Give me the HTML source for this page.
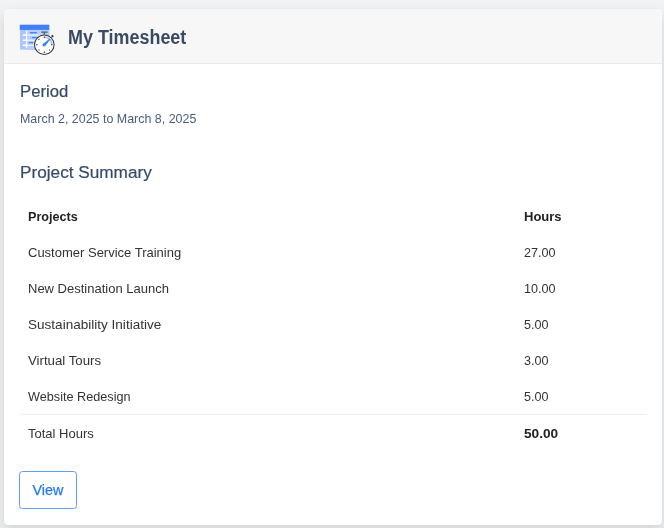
<!DOCTYPE html>
<html lang="en"><head><meta charset="utf-8">
<title>My Timesheet</title>
<style>
html,body{margin:0;padding:0;}
body{width:664px;height:528px;background:#f2f3f5;font-family:"Liberation Sans",sans-serif;position:relative;overflow:hidden;}
.card{position:absolute;left:4px;top:9px;width:658px;height:516px;background:#fff;border-radius:4px;box-shadow:0 0 1px rgba(0,0,0,.08),0 8px 16px 2px rgba(0,0,0,.115);overflow:hidden;}
.hdr{position:absolute;left:0;top:0;right:0;height:54px;background:#f7f7f7;border-bottom:1px solid #ebebeb;}
.ico{position:absolute;left:12px;top:11px;}
h1,h2,p{margin:0;font-weight:normal;}
.t{position:absolute;white-space:nowrap;line-height:1;transform-origin:0 0;}
.title{left:64px;top:19px;font-size:19.5px;font-weight:bold;color:#3a4a63;transform:scaleX(.92);}
.h2{font-size:16.7px;color:#374a69;left:16px;-webkit-text-stroke:.2px #374a69;}
.date{font-size:13px;color:#4a5d7e;left:16px;transform:scaleX(.957);}
table{position:absolute;left:16px;top:189px;width:626px;border-collapse:separate;border-spacing:0;table-layout:fixed;font-size:13px;line-height:13px;color:#333;}
th,td{padding:12px 0 11px 8px;text-align:left;font-weight:normal;white-space:nowrap;vertical-align:top;}
th span,td span{display:inline-block;transform-origin:0 0;vertical-align:top;}
th,.b{font-weight:bold;color:#222;}
tfoot td{border-top:1px solid #efefef;}
.btn{position:absolute;left:15px;top:462px;width:58px;height:38px;margin:0;padding:0;background:#fff;border:1px solid #609df9;border-radius:3.5px;box-sizing:border-box;font-family:inherit;cursor:pointer;}
.btn span{position:absolute;left:0;right:0;top:10px;text-align:center;font-size:15.5px;color:#2576f6;-webkit-text-stroke:.25px #2576f6;line-height:1;transform:scaleX(.93);}
</style></head><body>
<section class="card">
<header class="hdr">
<svg class="ico" width="44" height="38" viewBox="0 0 44 38">
<rect x="4" y="9.5" width="29.3" height="20.2" fill="#abc6fb"/>
<rect x="10.5" y="9.5" width="22.8" height="20.2" fill="#b7cefc"/>
<rect x="3.75" y="4.7" width="29.55" height="5.2" fill="#4080fa"/>
<rect x="13.9" y="12" width="7" height="1.4" fill="#4a86fa"/>
<rect x="16" y="16.9" width="8" height="1.4" fill="#4a86fa"/>
<rect x="12.8" y="21.9" width="4.3" height="1.4" fill="#4a86fa"/>
<rect x="6.9" y="14.5" width="18" height="1.25" fill="#fff" fill-opacity=".75"/>
<rect x="6.9" y="19.65" width="18" height="1.25" fill="#fff" fill-opacity=".75"/>
<rect x="6.9" y="24.7" width="18" height="1.25" fill="#fff" fill-opacity=".75"/>
<rect x="6.9" y="14.5" width="4" height="1.25" fill="#fff"/>
<rect x="6.9" y="19.65" width="4" height="1.25" fill="#fff"/>
<rect x="6.9" y="24.7" width="4" height="1.25" fill="#fff"/>
<rect x="9.9" y="11" width="1.25" height="17" fill="#fff"/>
<path d="M25.3 12.15H31.6M28.30 12.2V14.8" stroke="#5a5a5a" stroke-width="1.1" fill="none"/>
<path d="M35.70 15.30L37.20 16.90" stroke="#333" stroke-width="1.7" fill="none"/>
<path d="M35.20 17.60L36.40 16.40" stroke="#333" stroke-width="1" fill="none"/>
<circle cx="28.30" cy="24.70" r="9.8" fill="#fff" stroke="#3c3c3c" stroke-width="1.05"/>
<path d="M28.60 17.10A7.6 7.6 0 0 1 35.90 24.50" stroke="#a3c1fb" stroke-width="1.7" fill="none"/>
<path d="M28.30 18.00L28.30 16.50M35.00 24.70L36.50 24.70M28.30 31.40L28.30 32.90M21.60 24.70L20.10 24.70" stroke="#333" stroke-width="1.1" fill="none"/>
<path d="M33.25 19.75L33.96 19.04M33.25 29.65L33.96 30.36M23.35 29.65L22.64 30.36M23.35 19.75L22.64 19.04" stroke="#333" stroke-width="1.1" fill="none"/>
<path d="M29.37 25.75L34.23 19.52L33.37 18.68L27.23 23.65Z" fill="#4080fa"/>
<circle cx="28.10" cy="24.80" r="1.6" fill="#4080fa"/>
</svg>
<h1 class="t title" id="title">My Timesheet</h1>
</header>
<h2 class="t h2" id="period" style="top:75px">Period</h2>
<p class="t date" id="date" style="top:103px">March 2, 2025 to March 8, 2025</p>
<h2 class="t h2" id="ps" style="top:156px;transform:scaleX(1.03)">Project Summary</h2>
<table>
<colgroup><col style="width:496px"><col style="width:130px"></colgroup>
<thead><tr><th><span id="hp" style="transform:scaleX(.97)">Projects</span></th><th><span id="hh">Hours</span></th></tr></thead>
<tbody>
<tr><td><span id="r1">Customer Service Training</span></td><td><span id="v1" style="transform:scaleX(.97)">27.00</span></td></tr>
<tr><td><span id="r2">New Destination Launch</span></td><td><span id="v2" style="transform:scaleX(.97)">10.00</span></td></tr>
<tr><td><span id="r3" style="transform:scaleX(1.042)">Sustainability Initiative</span></td><td><span id="v3" style="transform:scaleX(.97)">5.00</span></td></tr>
<tr><td><span id="r4" style="transform:scaleX(1.018)">Virtual Tours</span></td><td><span id="v4" style="transform:scaleX(.97)">3.00</span></td></tr>
<tr><td><span id="r5" style="transform:scaleX(.974)">Website Redesign</span></td><td><span id="v5" style="transform:scaleX(.97)">5.00</span></td></tr>
</tbody>
<tfoot><tr><td><span id="r6">Total Hours</span></td><td class="b"><span id="v6" style="transform:scaleX(1.05)">50.00</span></td></tr></tfoot>
</table>
<button class="btn" type="button"><span id="view">View</span></button>
</section>
</body></html>
